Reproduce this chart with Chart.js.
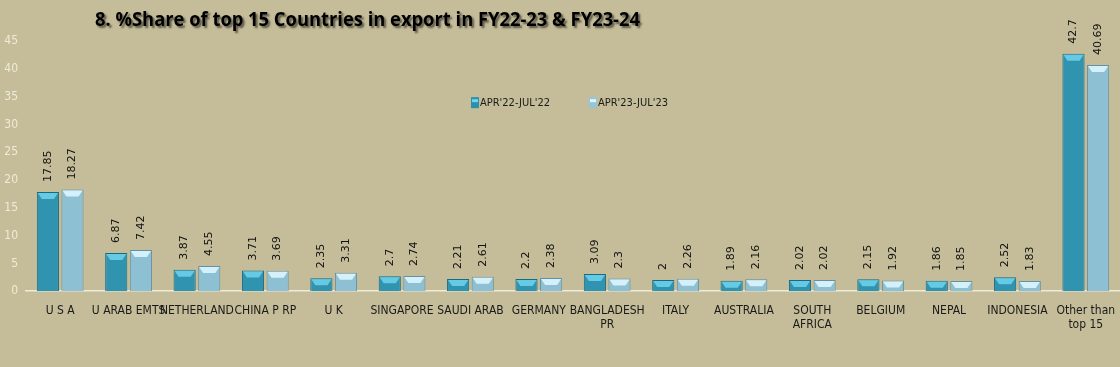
<!DOCTYPE html>
<html>
<head>
<meta charset="utf-8">
<script src="https://cdn.jsdelivr.net/npm/chart.js@4.4.1/dist/chart.umd.min.js"></script>
<style>
  html, body { margin: 0; padding: 0; background: #C5BD99; }
  #wrap { width: 1120px; height: 367px; position: relative; }
</style>
</head>
<body>
<div id="wrap"><canvas id="myChart" width="1120" height="367"></canvas></div>
<script>
// --- données du graphique ---
const titre = "8. %Share of top 15 Countries in export in FY22-23 & FY23-24";
const pays = [
    'U S A', 'U ARAB EMTS', 'NETHERLAND', 'CHINA P RP', 'U K', 'SINGAPORE',
    'SAUDI ARAB', 'GERMANY', ['BANGLADESH', 'PR'], 'ITALY', 'AUSTRALIA',
    ['SOUTH', 'AFRICA'], 'BELGIUM', 'NEPAL', 'INDONESIA', ['Other than', 'top 15']
];
const serie2022 = [17.85, 6.87, 3.87, 3.71, 2.35, 2.7, 2.21, 2.2, 3.09, 2, 1.89, 2.02, 2.15, 1.86, 2.52, 42.7];
const serie2023 = [18.27, 7.42, 4.55, 3.69, 3.31, 2.74, 2.61, 2.38, 2.3, 2.26, 2.16, 2.02, 1.92, 1.85, 1.83, 40.69];
const libelles = ["APR'22-JUL'22", "APR'23-JUL'23"];
const yMax = 45;
const yPas = 5;

const policeEtroite = '"DejaVu Sans Condensed", "Liberation Sans", sans-serif';

// dégradé horizontal pour l'effet 3D des barres
function degrade(ctx, fonce, clair) {
    const el = ctx.element;
    if (!el || !el.width) return clair;
    const x0 = el.x - el.width / 2;
    const g = ctx.chart.ctx.createLinearGradient(x0, 0, x0 + el.width, 0);
    g.addColorStop(0, fonce);
    g.addColorStop(0.25, clair);
    g.addColorStop(0.75, clair);
    g.addColorStop(1, fonce);
    return g;
}

// titre, légende et étiquettes de valeurs
const decor = {
    id: 'decor',
    afterDatasetsDraw(chart) {
        const ctx = chart.ctx;
        ctx.save();

        // haut des barres : biseau clair
        chart.data.datasets.forEach((ds, i) => {
            chart.getDatasetMeta(i).data.forEach(bar => {
                const x0 = bar.x - bar.width / 2;
                const h = Math.min(7, bar.base - bar.y);
                ctx.fillStyle = i === 0 ? 'rgba(110,212,236,0.85)' : 'rgba(220,246,255,0.9)';
                ctx.beginPath();
                ctx.moveTo(x0 + 1, bar.y + 1);
                ctx.lineTo(x0 + bar.width - 1, bar.y + 1);
                ctx.lineTo(x0 + bar.width - 5, bar.y + h);
                ctx.lineTo(x0 + 5, bar.y + h);
                ctx.closePath();
                ctx.fill();
            });
        });

        // valeurs au-dessus des barres, texte vertical
        ctx.font = '11px "DejaVu Sans", sans-serif';
        ctx.fillStyle = '#111';
        ctx.textAlign = 'left';
        ctx.textBaseline = 'middle';
        chart.data.datasets.forEach((ds, i) => {
            chart.getDatasetMeta(i).data.forEach((bar, j) => {
                ctx.save();
                ctx.translate(bar.x, bar.y - 10);
                ctx.rotate(-Math.PI / 2);
                ctx.fillText(String(ds.data[j]), 0, 0);
                ctx.restore();
            });
        });

        // légende dans la zone du graphique
        const yLeg = chart.scales.y.getPixelForValue(34);
        const xs = [471, 589];
        ctx.font = '11px ' + policeEtroite;
        ctx.textBaseline = 'middle';
        chart.data.datasets.forEach((ds, i) => {
            ctx.fillStyle = i === 0 ? '#2C8FAB' : '#92C6D8';
            ctx.fillRect(xs[i], yLeg - 5, 8, 11);
            ctx.fillStyle = i === 0 ? '#6FD4EC' : '#E0F6FF';
            ctx.fillRect(xs[i] + 1, yLeg - 3, 6, 3);
            ctx.fillStyle = '#1a1a1a';
            ctx.fillText(ds.label, xs[i] + 9, yLeg + 1);
        });

        // titre avec ombre
        ctx.font = 'bold 20px "Open Sans", sans-serif';
        ctx.textAlign = 'left';
        ctx.textBaseline = 'middle';
        ctx.shadowColor = 'rgba(0,0,0,0.55)';
        ctx.shadowOffsetX = 2;
        ctx.shadowOffsetY = 2;
        ctx.shadowBlur = 2;
        ctx.fillStyle = '#000';
        ctx.fillText(titre, 95, 20, 545);

        ctx.restore();
    }
};

new Chart(document.getElementById('myChart'), {
    type: 'bar',
    data: {
        labels: pays,
        datasets: [{
            label: libelles[0],
            data: serie2022,
            backgroundColor: c => degrade(c, '#1D7189', '#3093AF'),
            borderColor: '#1B6980',
            borderWidth: 1,
            categoryPercentage: 0.72,
            barPercentage: 0.9
        }, {
            label: libelles[1],
            data: serie2023,
            backgroundColor: c => degrade(c, '#6797AA', '#8EC0D3'),
            borderColor: '#6490A2',
            borderWidth: 1,
            categoryPercentage: 0.72,
            barPercentage: 0.9
        }]
    },
    options: {
        responsive: false,
        animation: false,
        layout: { padding: { top: 41, right: 0, left: 0, bottom: 23 } },
        plugins: {
            legend: { display: false },
            title: { display: false },
            tooltip: { enabled: false }
        },
        scales: {
            x: {
                afterFit: s => { s.paddingLeft = 0; s.paddingRight = 0; },
                grid: { display: false, drawTicks: false },
                border: { color: '#EEEBD9', width: 1.5 },
                ticks: {
                    color: '#1a1a1a',
                    font: { family: policeEtroite, size: 12 },
                    padding: 12,
                    maxRotation: 0,
                    autoSkip: false
                }
            },
            y: {
                min: 0,
                max: yMax,
                afterFit: s => { s.width = 26; },
                grid: { display: false, drawTicks: false },
                border: { display: false },
                ticks: {
                    stepSize: yPas,
                    color: '#EEEBD9',
                    font: { family: policeEtroite, size: 12 },
                    padding: 8
                }
            }
        }
    },
    plugins: [decor]
});
</script>
</body>
</html>
